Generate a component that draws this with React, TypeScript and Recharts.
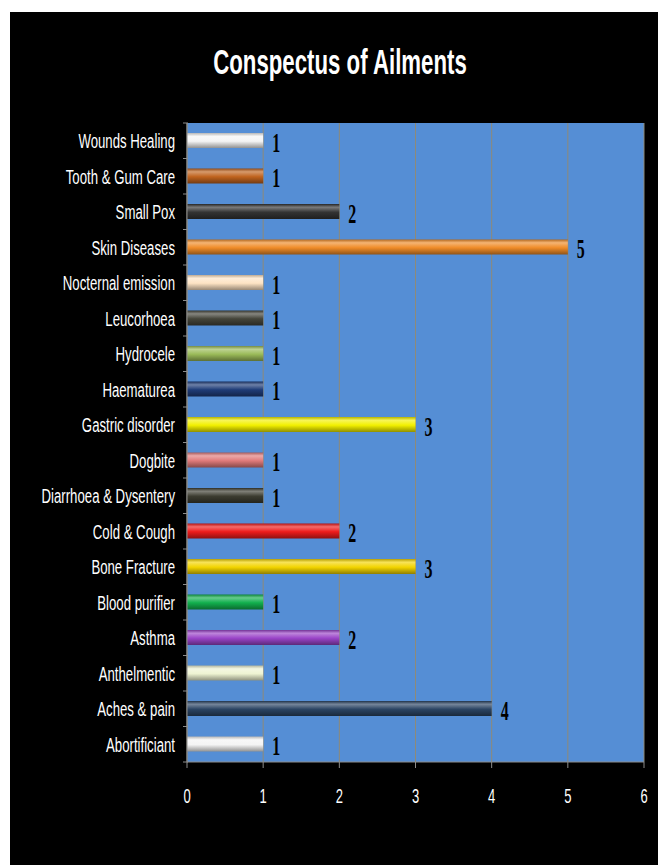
import { BarChart, Bar, XAxis, YAxis, CartesianGrid, Cell, LabelList } from 'recharts';

const ailments = [
  'Wounds Healing',
  'Tooth & Gum Care ',
  'Small Pox',
  'Skin Diseases',
  'Nocternal emission ',
  'Leucorhoea',
  'Hydrocele',
  'Haematurea',
  'Gastric disorder',
  'Dogbite',
  'Diarrhoea & Dysentery',
  'Cold & Cough',
  'Bone Fracture',
  'Blood purifier',
  'Asthma',
  'Anthelmentic',
  'Aches & pain',
  'Abortificiant',
];

const counts = [1, 1, 2, 5, 1, 1, 1, 1, 3, 1, 1, 2, 3, 1, 2, 1, 4, 1];

const barColors = [
  '#f4f4f4', '#c0631e', '#333333', '#f08c28', '#fde3c4', '#45453a',
  '#9bbb59', '#1f3c78', '#f2f000', '#e07a7a', '#3c3c30', '#ee1c1c',
  '#f2d400', '#12b04e', '#9a44c8', '#eef3d2', '#2b4463', '#f4f4f4',
];

const xTicks = [0, 1, 2, 3, 4, 5, 6];

const data = ailments.map((name, i) => ({ name, value: counts[i] }));

const SANS = "'Liberation Sans', Arial, sans-serif";
const SERIF = "'Liberation Serif', 'Times New Roman', serif";
const BAND = 639 / ailments.length;

// blend a hex colour toward white (t>0) or black (t<0)
const shade = (hex: string, t: number) => {
  const n = parseInt(hex.slice(1), 16);
  const ch = [(n >> 16) & 255, (n >> 8) & 255, n & 255].map((c) =>
    Math.round(t > 0 ? c + (255 - c) * t : c * (1 + t))
  );
  return `rgb(${ch.join(',')})`;
};

const YTick = (props: any) => {
  const { x, y, payload } = props;
  return (
    <g>
      <line x1={x + 4} x2={x + 9} y1={y - BAND / 2} y2={y - BAND / 2} stroke="#8c8c8c" />
      {payload.index === ailments.length - 1 && (
        <line x1={x + 4} x2={x + 9} y1={y + BAND / 2} y2={y + BAND / 2} stroke="#8c8c8c" />
      )}
      <g transform={`translate(${x - 4},${y + 1})`}>
        <text
          transform="scale(0.66,1)"
          textAnchor="end"
          dominantBaseline="central"
          fill="#ffffff"
          fontSize={20}
          fontFamily={SANS}
        >
          {payload.value}
        </text>
      </g>
    </g>
  );
};

const XTick = (props: any) => {
  const { x, y, payload } = props;
  return (
    <g transform={`translate(${x},${y + 26})`}>
      <text
        transform="scale(0.62,1)"
        textAnchor="middle"
        dominantBaseline="central"
        fill="#ffffff"
        fontSize={21}
        fontFamily={SANS}
      >
        {payload.value}
      </text>
    </g>
  );
};

const ValueLabel = (props: any) => {
  const { x, y, width, height, value } = props;
  return (
    <g transform={`translate(${x + width + 9},${y + height / 2 + 2})`}>
      <text
        transform="scale(0.57,1)"
        dominantBaseline="central"
        fill="#000000"
        fontSize={28}
        fontWeight="bold"
        fontFamily={SERIF}
      >
        {value}
      </text>
    </g>
  );
};

export default function App() {
  return (
    <div style={{ position: 'absolute', left: 0, top: 0, width: 658, height: 865, background: '#ffffff' }}>
      <div style={{ position: 'absolute', left: 10, top: 12, width: 648, height: 853, background: '#000000' }}>
        <div
          style={{
            position: 'absolute',
            left: 0,
            top: 28,
            width: 660,
            textAlign: 'center',
            color: '#ffffff',
            fontFamily: SANS,
            fontWeight: 'bold',
            fontSize: 35,
            lineHeight: '44px',
            transform: 'scale(0.635,1)',
          }}
        >
          Conspectus of Ailments
        </div>
        <BarChart
          width={648}
          height={853}
          data={data}
          layout="vertical"
          margin={{ top: 111, right: 14, left: 0, bottom: 73 }}
        >
          <defs>
            {barColors.map((c, i) => (
              <linearGradient key={i} id={`bar${i}`} x1="0" y1="0" x2="0" y2="1">
                <stop offset="0%" stopColor={shade(c, -0.25)} />
                <stop offset="22%" stopColor={shade(c, 0.35)} />
                <stop offset="55%" stopColor={c} />
                <stop offset="100%" stopColor={shade(c, -0.4)} />
              </linearGradient>
            ))}
          </defs>
          <CartesianGrid horizontal={false} vertical fill="#558ed5" stroke="#8e8a78" fillOpacity={1} />
          <XAxis
            type="number"
            domain={[0, 6]}
            ticks={xTicks}
            height={30}
            stroke="#8c8c8c"
            tickSize={6}
            tick={<XTick />}
          />
          <YAxis
            type="category"
            dataKey="name"
            width={177}
            stroke="#8c8c8c"
            tickLine={false}
            tickSize={0}
            tickMargin={8}
            interval={0}
            tick={<YTick />}
          />
          <Bar dataKey="value" barSize={15} isAnimationActive={false}>
            {data.map((_, i) => (
              <Cell key={i} fill={`url(#bar${i})`} />
            ))}
            <LabelList dataKey="value" content={<ValueLabel />} />
          </Bar>
        </BarChart>
      </div>
    </div>
  );
}
